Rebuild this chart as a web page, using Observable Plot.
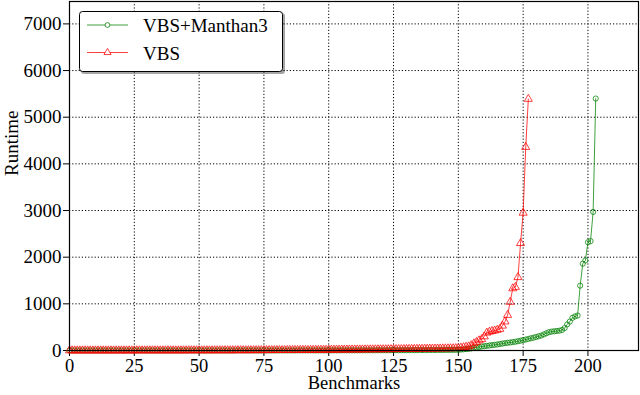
<!DOCTYPE html>
<html>
<head>
<meta charset="utf-8">
<script src="https://cdn.jsdelivr.net/npm/d3@7"></script>
<script src="https://cdn.jsdelivr.net/npm/@observablehq/plot@0.6"></script>
<style>
  html, body { margin: 0; padding: 0; background: #fff; }
  #chart { width: 640px; height: 395px; }
  #chart svg, #chart svg text { font-family: "Liberation Serif", "DejaVu Serif", serif !important; }
</style>
</head>
<body>
<div id="chart"></div>
<script>
// Sorted runtimes per benchmark (cactus plot), index = benchmark number
const vbsManthan3 = [
  0,0,0,0,0,0,0,0,0,0,
  0,0,0,0,0,0,0,0,0,0, 0,0,0,0,0,0,0,0,0,0,
  0,0,0,0,0,0,0,0,0,0, 0,0,0,0,0,0,0,0,0,0,
  0,0,0,0,0,0,0,0,0,0, 0,0,0,0,0,1,1,1,1,1,
  1,1,1,1,1,1,1,1,1,1, 1,1,1,1,1,1,1,1,2,2,
  2,2,2,2,2,2,2,2,2,2, 2,2,3,3,3,3,3,3,3,3,
  3,3,4,4,4,4,4,4,4,5, 5,5,5,5,6,6,6,6,7,7,
  7,7,8,8,8,9,9,9,10,10, 10,11,11,12,12,13,13,14,14,15,
  15,20,25,30,36,45,55,65,75,85, 92,100,107,115,122,130,138,148,157,165,
  172,180,188,198,210,222,235,248,262,275, 290,305,320,345,370,393,405,412,418,425,
  440,480,560,620,700,730,750,1390,1860,1930, 2320,2345,2970,5400
];
const vbs = [
  0,0,0,0,0,0,0,0,0,0, 0,0,0,0,0,0,0,0,0,0,
  0,0,0,0,0,0,1,1,1,1, 1,1,1,1,1,1,1,1,1,1,
  1,1,1,1,1,2,2,2,2,2, 2,2,2,2,2,2,3,3,3,3,
  3,3,3,3,3,4,4,4,4,4, 4,5,5,5,5,5,6,6,6,6,
  7,7,7,7,8,8,8,9,9,9, 10,10,10,11,11,12,12,13,13,14,
  14,15,15,16,16,17,17,18,18,19, 19,19,20,20,21,21,22,22,23,23,
  24,24,25,25,26,26,27,27,28,29, 30,31,31,32,33,34,35,36,36,37,
  38,39,40,41,42,43,44,45,46,48, 50,58,68,78,86,110,150,180,215,240,
  300,380,400,415,425,440,460,530,620,760, 1040,1330,1360,1570,2300,2950,4360,5390
];
const seriesNames = ["VBS+Manthan3", "VBS"];
const seriesColors = ["#008000", "#ff0000"];
const xTicks = [0, 25, 50, 75, 100, 125, 150, 175, 200];
const yTicks = [0, 1000, 2000, 3000, 4000, 5000, 6000, 7000];
const xLabel = "Benchmarks";
const yLabel = "Runtime";

const greenData = vbsManthan3.map((v, i) => ({x: i, y: v}));
const redData = vbs.map((v, i) => ({x: i, y: v}));

const font = "Liberation Serif, DejaVu Serif, serif";
const fs = 19;

const chart = Plot.plot({
  width: 640,
  height: 395,
  marginLeft: 69,
  marginRight: 2,
  marginTop: 1,
  marginBottom: 45,
  style: {fontFamily: font, fontSize: fs + "px", color: "black", background: "white"},
  x: {domain: [0, 219.5]},
  y: {domain: [0, 7480]},
  marks: [
    Plot.gridX(xTicks, {stroke: "black", strokeOpacity: 1, strokeWidth: 1, strokeDasharray: "1.2,2"}),
    Plot.gridY(yTicks, {stroke: "black", strokeOpacity: 1, strokeWidth: 1, strokeDasharray: "1.2,2"}),
    Plot.axisX({ticks: xTicks, tickSize: 6, tickPadding: 2, tickFormat: d3.format("d"), label: null, fontSize: 18.5}),
    Plot.axisY({ticks: yTicks, tickSize: 6, tickPadding: 2, tickFormat: d3.format("d"), label: null, fontSize: fs}),
    Plot.line(greenData, {x: "x", y: "y", stroke: seriesColors[0], strokeOpacity: 0.75, strokeWidth: 1}),
    Plot.dot(greenData, {x: "x", y: "y", stroke: seriesColors[0], strokeOpacity: 0.75, fill: "none", r: 2.6, strokeWidth: 1}),
    Plot.line(redData, {x: "x", y: "y", stroke: seriesColors[1], strokeOpacity: 0.75, strokeWidth: 1}),
    Plot.dot(redData, {x: "x", y: "y", symbol: "triangle", stroke: seriesColors[1], strokeOpacity: 0.75, fill: "none", r: 3, strokeWidth: 1}),
    Plot.frame({stroke: "black", strokeWidth: 1.2}),
    Plot.text([xLabel], {frameAnchor: "bottom", dy: 38, fontSize: 18.5, text: d => d}),
    Plot.text([yLabel], {frameAnchor: "left", dx: -58, rotate: -90, fontSize: fs, text: d => d})
  ]
});

document.getElementById("chart").appendChild(chart);

// Legend (inside the plot area, top-left)
const svg = d3.select(chart);
const lg = svg.append("g").attr("font-family", font).attr("font-size", fs).attr("text-anchor", "start");
lg.append("rect").attr("x", 81).attr("y", 13).attr("width", 204).attr("height", 61)
  .attr("rx", 3).attr("fill", "#000").attr("fill-opacity", 0.35);
lg.append("rect").attr("x", 79.5).attr("y", 11.5).attr("width", 203).attr("height", 60)
  .attr("rx", 3).attr("fill", "white").attr("stroke", "black").attr("stroke-width", 1);
const rows = [25, 52.5];
seriesNames.forEach((name, i) => {
  const y = rows[i];
  lg.append("line").attr("x1", 87).attr("x2", 128).attr("y1", y).attr("y2", y)
    .attr("stroke", seriesColors[i]).attr("stroke-opacity", 0.75);
  if (i === 0) {
    lg.append("circle").attr("cx", 107.5).attr("cy", y).attr("r", 2.4)
      .attr("fill", "white").attr("stroke", seriesColors[i]).attr("stroke-opacity", 0.75);
  } else {
    lg.append("path").attr("d", d3.symbol(d3.symbolTriangle, 22)()).attr("transform", `translate(107.5,${y})`)
      .attr("fill", "white").attr("stroke", seriesColors[i]).attr("stroke-opacity", 0.75);
  }
  lg.append("text").attr("x", 143).attr("y", y + 7).attr("fill", "black").attr("text-anchor", "start").text(name);
});
</script>
</body>
</html>
